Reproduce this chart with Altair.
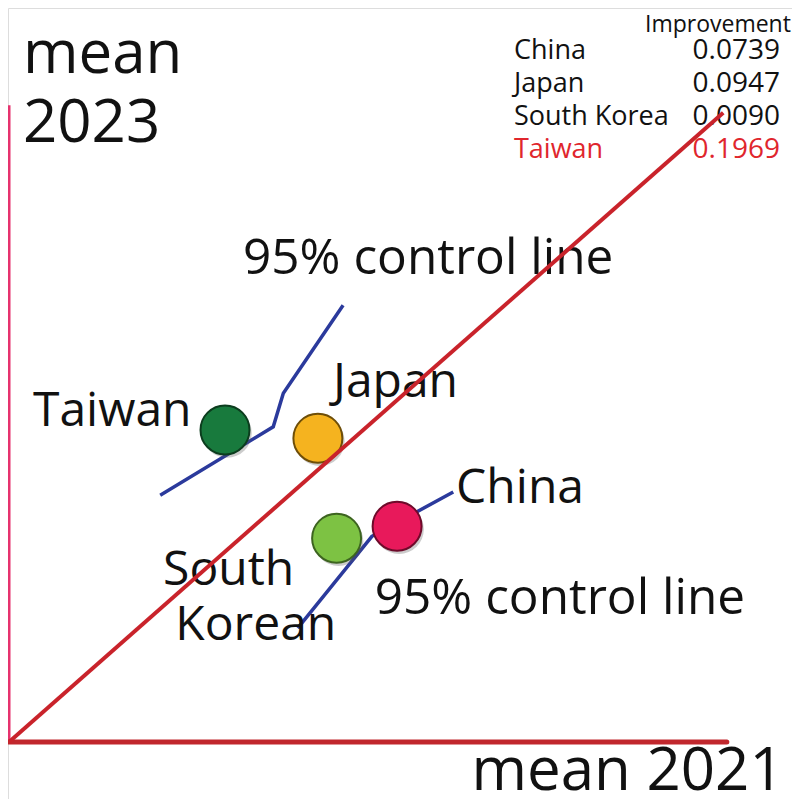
import altair as alt
import pandas as pd

# ---- data -------------------------------------------------------------
countries = ["Taiwan", "Japan", "South Korea", "China"]
mean_2021 = [30.0, 42.9, 45.5, 53.9]
mean_2023 = [49.3, 48.0, 32.2, 34.1]
fill_colors = ["#187a3d", "#f5b31f", "#7dc243", "#e8195b"]
stroke_colors = ["#0c3d1e", "#6e4e08", "#3d6420", "#6e0a2a"]

legend_names = ["China", "Japan", "South Korea", "Taiwan"]
improvement = ["0.0739", "0.0947", "0.0090", "0.1969"]
legend_colors = ["#111111", "#111111", "#111111", "#e0262d"]
legend_y = [107.9, 102.7, 97.5, 92.3]

upper_ctrl_x = [21.0, 36.7, 38.1, 46.4]
upper_ctrl_y = [39.0, 49.8, 55.1, 69.0]
lower_ctrl_x = [40.1, 50.4, 61.7]
lower_ctrl_y = [18.0, 32.5, 39.5]

diag_x = [0.0, 99.2]
diag_y = [0.0, 99.4]

label_text = ["Japan", "Taiwan", "China", "South", "Korean"]
label_x = [45.0, 3.33, 62.1, 21.4, 23.1]
label_y = [54.5, 49.9, 37.8, 24.8, 16.1]

ctrl_text = ["95% control line", "95% control line"]
ctrl_tx = [32.5, 50.8]
ctrl_ty = [73.9, 20.2]

FONT = "Open Sans"

xs = alt.Scale(domain=[-0.14, 108.75], nice=False, zero=False)
ys = alt.Scale(domain=[-9.0, 115.96], nice=False, zero=False)


def X(f):
    return alt.X(f, type="quantitative", scale=xs, axis=None)


def Y(f):
    return alt.Y(f, type="quantitative", scale=ys, axis=None)


pts = pd.DataFrame({"country": countries, "x": mean_2021, "y": mean_2023,
                    "fill": fill_colors, "stroke": stroke_colors})

ctrl = pd.DataFrame({
    "x": upper_ctrl_x + lower_ctrl_x,
    "y": upper_ctrl_y + lower_ctrl_y,
    "line": ["upper"] * len(upper_ctrl_x) + ["lower"] * len(lower_ctrl_x),
    "o": list(range(len(upper_ctrl_x))) + list(range(len(lower_ctrl_x))),
})

diag = pd.DataFrame({"x": diag_x, "y": diag_y})

vaxis = pd.DataFrame({"x": [0.0], "y": [0.0], "y2": [100.6]})
haxis = pd.DataFrame({"x": [-0.5], "x2": [99.7], "y": [0.0]})

labels = pd.DataFrame({"t": label_text, "x": label_x, "y": label_y})
ctrl_labels = pd.DataFrame({"t": ctrl_text, "x": ctrl_tx, "y": ctrl_ty})

leg = pd.DataFrame({"name": legend_names, "val": improvement,
                    "c": legend_colors, "y": legend_y})

titles_left = pd.DataFrame({"t": ["mean", "2023"], "x": [1.94, 1.94], "y": [105.7, 94.8]})
title_bottom = pd.DataFrame({"t": ["mean 2021"], "x": [107.6], "y": [-7.6]})
imp_head = pd.DataFrame({"t": ["Improvement"], "x": [108.6], "y": [112.2]})

v_rule = alt.Chart(vaxis).mark_rule(color="#e6326e", strokeWidth=3).encode(
    x=X("x"), y=Y("y"), y2="y2")
h_rule = alt.Chart(haxis).mark_rule(color="#c1272d", strokeWidth=5, strokeCap="round").encode(
    x=X("x"), x2="x2", y=Y("y"))

diag_line = alt.Chart(diag).mark_line(color="#c9232b", strokeWidth=4).encode(
    x=X("x"), y=Y("y"))

ctrl_lines = alt.Chart(ctrl).mark_line(color="#2b3a9c", strokeWidth=3.5).encode(
    x=X("x"), y=Y("y"), detail="line:N", order="o:Q")

shadow = alt.Chart(pts).mark_circle(size=2450, color="#555555", opacity=0.3,
                                    xOffset=2, yOffset=3).encode(x=X("x"), y=Y("y"))
circles = alt.Chart(pts).mark_circle(size=2400, opacity=1, strokeWidth=2).encode(
    x=X("x"), y=Y("y"),
    fill=alt.Fill("fill:N", scale=None),
    stroke=alt.Stroke("stroke:N", scale=None))

lab = alt.Chart(labels).mark_text(font=FONT, fontSize=48, align="left", baseline="alphabetic",
                                  color="#111111").encode(x=X("x"), y=Y("y"), text="t:N")
clab = alt.Chart(ctrl_labels).mark_text(font=FONT, fontSize=49.5, align="left", baseline="alphabetic",
                                        color="#111111").encode(x=X("x"), y=Y("y"), text="t:N")

tl = alt.Chart(titles_left).mark_text(font=FONT, fontSize=60, align="left", baseline="alphabetic",
                                      color="#111111").encode(x=X("x"), y=Y("y"), text="t:N")
tb = alt.Chart(title_bottom).mark_text(font=FONT, fontSize=60, align="right", baseline="alphabetic",
                                       color="#111111").encode(x=X("x"), y=Y("y"), text="t:N")

ih = alt.Chart(imp_head).mark_text(font=FONT, fontSize=23, align="right", baseline="alphabetic",
                                   color="#111111").encode(x=X("x"), y=Y("y"), text="t:N")
leg_names = alt.Chart(leg).mark_text(font=FONT, fontSize=27, align="left", baseline="alphabetic").encode(
    x=alt.value(506), y=Y("y"), text="name:N", color=alt.Color("c:N", scale=None))
leg_vals = alt.Chart(leg).mark_text(font=FONT, fontSize=28, align="right", baseline="alphabetic").encode(
    x=alt.value(772), y=Y("y"), text="val:N", color=alt.Color("c:N", scale=None))

chart = alt.layer(
    v_rule, h_rule, ctrl_lines, shadow, circles, lab, clab, tl, tb, ih, leg_names, leg_vals, diag_line
).properties(width=784, height=791, padding=0, autosize="none"
).configure_view(stroke=None).configure(background="white")

chart.save("out.html", embed_options={"renderer": "svg", "actions": False})
